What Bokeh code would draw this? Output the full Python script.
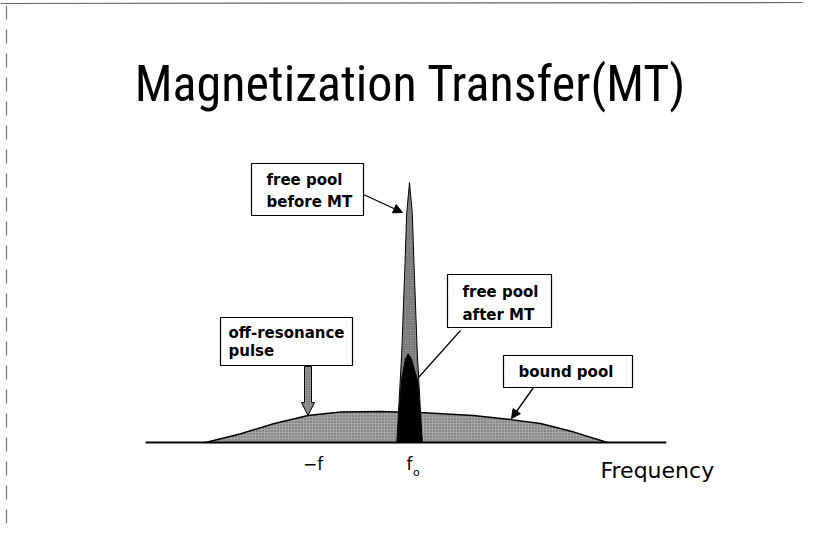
from bokeh.plotting import figure
from bokeh.models import Range1d, Arrow, NormalHead
from bokeh.core.properties import value
from bokeh.embed import file_html
from bokeh.resources import INLINE

# ---------------- data ----------------
title_text = "Magnetization Transfer(MT)"
axis_label = "Frequency"
tick_pos = [-1.0, 0.0]            # -f (off-resonance) and f0
tick_text = ["\u2212f", "f"]

# bound pool (broad line)
bound_f = [-2.01, -1.67, -1.34, -1.00, -0.68, -0.29, 0.14, 0.63, 1.00, 1.29, 1.62, 1.95]
bound_h = [0.0, 0.033, 0.072, 0.104, 0.117, 0.119, 0.114, 0.104, 0.088, 0.073, 0.040, 0.0]

# free pool before MT (narrow line)
before_f = [-0.125, -0.077, -0.044, -0.028, 0.0, 0.028, 0.044, 0.077, 0.125]
before_h = [0.0, 0.34, 0.69, 0.88, 1.0, 0.88, 0.69, 0.34, 0.0]

# free pool after MT (saturated)
after_f = [-0.12, -0.08, -0.04, -0.013, 0.02, 0.08, 0.125]
after_h = [0.0, 0.238, 0.32, 0.341, 0.32, 0.238, 0.0]

baseline_f = [-2.60, 2.53]

# ---------------- layout ----------------
W, H = 803, 523
PXU, PYU = 101.5, 260.0          # pixels per data unit
XS = -409 / PXU
XE = XS + W / PXU
YE = 442 / PYU
YS = YE - H / PYU
SHIFT = 0.38                      # baseline correction (fraction of font size)


def fx(px):
    return XS + px / PXU


def fy(py):
    return YE - py / PYU


def ft(py, size):
    # y for a text baseline at pixel py
    return fy(py - SHIFT * size)


p = figure(width=W, height=H, output_backend="svg", toolbar_location=None,
           x_range=Range1d(XS, XE), y_range=Range1d(YS, YE),
           min_border=0, outline_line_color=None)
p.axis.visible = False
p.grid.visible = False
p.background_fill_color = "white"
p.border_fill_color = "white"

# faint slide frame (scan)
p.line([fx(0), fx(803)], [fy(3), fy(2)], line_color="#666666", line_width=1.2)
p.line([fx(6), fx(6)], [fy(5), fy(523)], line_color="#777777", line_width=1.2, line_dash="14 10")

FONT = value("DejaVu Sans")

# title
TS = 50
p.text(x=[fx(410)], y=[ft(102, TS)], text=[title_text],
       text_font=value("Roboto Condensed, Liberation Sans Narrow, DejaVu Sans Condensed"),
       text_font_size=value(f"{TS}px"), text_align="center", text_baseline="alphabetic",
       text_color="black")

# bound pool
p.patch(bound_f, bound_h, fill_color="#a6a6a6", line_color=None,
        hatch_pattern=".", hatch_scale=3, hatch_color="#3a3a3a", hatch_alpha=0.75)
p.line(bound_f, bound_h, line_color="black", line_width=1.5)

# free pool before MT
p.patch(before_f, before_h, fill_color="#8c8c8c", line_color="black", line_width=1.0,
        hatch_pattern=".", hatch_scale=2.5, hatch_color="#333333", hatch_alpha=0.8)

# free pool after MT
p.patch(after_f, after_h, fill_color="black", line_color="black", line_width=1.0)

# baseline
p.line(baseline_f, [0, 0], line_color="black", line_width=2.2)

# off-resonance pulse arrow, pointing at the bound pool at -f
xf = tick_pos[0]
tip = bound_h[bound_f.index(-1.00)]
sw = 3.5 / PXU
hw = 6.5 / PXU
neck = tip + 13 / PYU
top = tip + 49 / PYU
p.patch([xf - sw, xf + sw, xf + sw, xf + hw, xf, xf - hw, xf - sw],
        [top, top, neck, neck, tip, neck, neck],
        fill_color="#9a9a9a", line_color="black", line_width=1.0,
        hatch_pattern=".", hatch_scale=2.5, hatch_color="#333333", hatch_alpha=0.8)

# label boxes
boxes = [(251, 363, 163, 215), (447, 551, 274, 327), (220, 352, 317, 365), (503, 632, 355, 387)]
p.quad(left=[fx(b[0]) for b in boxes], right=[fx(b[1]) for b in boxes],
       top=[fy(b[2]) for b in boxes], bottom=[fy(b[3]) for b in boxes],
       fill_color="white", line_color="black", line_width=1.2)

BS = 15
box_texts = [("free pool", 266, 185), ("before MT", 266, 207),
             ("free pool", 462, 297), ("after MT", 462, 320),
             ("off-resonance", 228, 338), ("pulse", 228, 356),
             ("bound pool", 518, 377)]
p.text(x=[fx(t[1]) for t in box_texts], y=[ft(t[2], BS) for t in box_texts],
       text=[t[0] for t in box_texts], text_font=FONT, text_font_size=value(f"{BS}px"),
       text_font_style="bold",
       text_align="left", text_baseline="alphabetic", text_color="black")

# pointers
p.add_layout(Arrow(end=NormalHead(size=9, fill_color="black", line_color="black"),
                   x_start=fx(363), y_start=fy(194), x_end=fx(402), y_end=fy(212),
                   line_width=1.3, line_color="black"))
p.add_layout(Arrow(end=NormalHead(size=9, fill_color="black", line_color="black"),
                   x_start=fx(533), y_start=fy(387), x_end=fx(511), y_end=fy(418),
                   line_width=1.3, line_color="black"))
p.line([fx(460), fx(418)], [fy(330), fy(377)], line_color="black", line_width=1.2)

# frequency labels
p.text(x=[tick_pos[0] + 5 / PXU], y=[ft(470, 17)], text=[tick_text[0]], text_font=FONT,
       text_font_size=value("17px"), text_align="center", text_baseline="alphabetic",
       text_color="black")
p.text(x=[tick_pos[1] - 3 / PXU], y=[ft(470, 17)], text=[tick_text[1]], text_font=FONT,
       text_font_size=value("17px"), text_align="left", text_baseline="alphabetic",
       text_color="black")
p.text(x=[tick_pos[1] + 3.5 / PXU], y=[ft(476, 11)], text=["o"], text_font=FONT,
       text_font_size=value("11px"), text_align="left", text_baseline="alphabetic",
       text_color="black")
p.text(x=[fx(600)], y=[ft(478, 22)], text=[axis_label], text_font=FONT,
       text_font_size=value("22px"), text_align="left", text_baseline="alphabetic",
       text_color="black")

open("out.html", "w").write(file_html(p, INLINE))
